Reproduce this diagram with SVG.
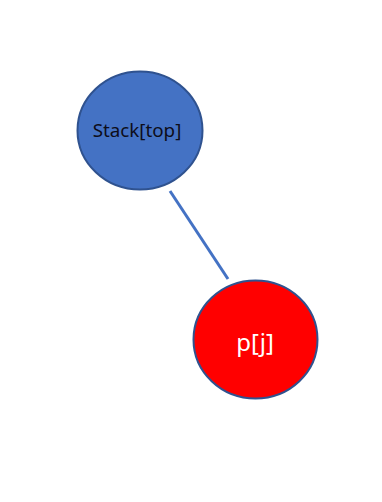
<svg xmlns="http://www.w3.org/2000/svg" width="382" height="502" viewBox="0 0 382 502">
  <style>
    .node { stroke: #2F528F; stroke-width: 2; }
    .label { font-family: "Noto Sans", "Noto Sans CJK SC", sans-serif; text-anchor: middle; dominant-baseline: central; }
    .edge { stroke: #4472C4; stroke-width: 3; fill: none; }
  </style>
  <rect width="382" height="502" fill="#FFFFFF"/>
  <g id="connectors">
    <line class="edge" x1="170" y1="191" x2="228" y2="279"/>
  </g>
  <g id="stack-top">
    <ellipse class="node" cx="140" cy="130.5" rx="62.5" ry="59" fill="#4472C4"/>
    <text class="label" x="137" y="130" font-size="18.8" fill="#0D0D1A">Stack[top]</text>
  </g>
  <g id="p-j">
    <ellipse class="node" cx="255.5" cy="339.5" rx="62" ry="59" fill="#FF0000"/>
    <text class="label" x="255" y="341" font-size="24" fill="#FFFFFF">p[j]</text>
  </g>
</svg>
